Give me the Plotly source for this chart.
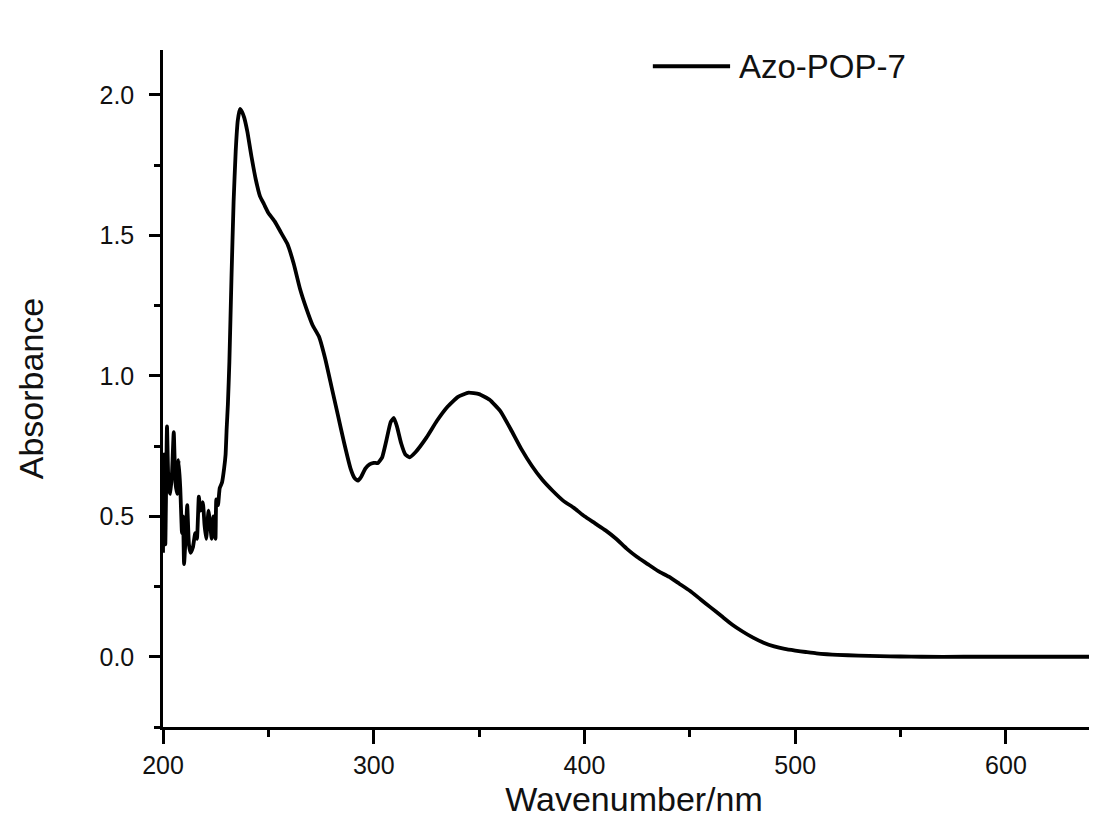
import plotly.graph_objects as go

# ---- data ----
wavelength_nm = [
    200.0, 200.5, 201.1, 201.9, 202.7, 203.5, 204.3, 205.1, 205.9, 206.7,
    207.4, 208.2, 209.0, 209.5, 210.0, 210.7, 211.5, 212.3, 213.1, 214.2,
    215.3, 216.1, 217.0, 217.8, 218.9, 219.7, 220.5, 221.6, 222.5, 223.1,
    223.9, 224.9, 225.3, 226.1, 226.9, 228.0, 229.0, 229.7, 230.2, 230.8,
    231.5, 232.5, 233.5, 234.5, 235.5, 236.5, 237.5, 238.5, 240, 242,
    244, 246, 248, 250, 253, 256, 259, 262, 265, 268,
    271, 274, 277, 280, 283, 286, 289, 291, 292.5, 294,
    296, 298, 300, 302, 304, 306, 308, 309.5, 311, 313,
    315, 317, 320, 325, 330, 335, 340, 345, 350, 355,
    360, 365, 370, 375, 380, 385, 390, 395, 400, 405,
    410, 415, 420, 425, 430, 435, 440, 445, 450, 455,
    460, 465, 470, 475, 480, 485, 490, 495, 500, 505,
    510, 515, 520, 530, 540, 550, 560, 580, 600, 620,
    647,
]
absorbance = [
    0.37, 0.72, 0.40, 0.82, 0.60, 0.58, 0.66, 0.80, 0.62, 0.58,
    0.70, 0.60, 0.44, 0.50, 0.33, 0.42, 0.54, 0.40, 0.37, 0.39,
    0.44, 0.42, 0.57, 0.52, 0.55, 0.47, 0.42, 0.52, 0.46, 0.42,
    0.50, 0.42, 0.56, 0.54, 0.60, 0.62, 0.67, 0.72, 0.81, 0.90,
    1.05, 1.35, 1.62, 1.80, 1.91, 1.95, 1.94, 1.92, 1.87, 1.78,
    1.70, 1.64, 1.61, 1.58, 1.55, 1.51, 1.47, 1.40, 1.31, 1.24,
    1.18, 1.14, 1.06, 0.96, 0.86, 0.76, 0.67, 0.635, 0.627, 0.64,
    0.67, 0.685, 0.69, 0.69, 0.71, 0.77, 0.835, 0.85, 0.82, 0.76,
    0.72, 0.71, 0.73, 0.78, 0.84, 0.89, 0.925, 0.94, 0.935, 0.915,
    0.875, 0.81, 0.74, 0.68, 0.63, 0.59, 0.555, 0.53, 0.50, 0.475,
    0.45, 0.42, 0.385, 0.355, 0.33, 0.305, 0.285, 0.26, 0.235, 0.205,
    0.175, 0.145, 0.115, 0.09, 0.068, 0.05, 0.037, 0.028, 0.022, 0.017,
    0.012, 0.009, 0.007, 0.004, 0.002, 0.001, 0.0, 0.0, 0.0, 0.0,
    0.0,
]
series_name = "Azo-POP-7"
x_ticks = [200, 300, 400, 500, 600]
y_ticks = [0.0, 0.5, 1.0, 1.5, 2.0]
y_tick_labels = ["0.0", "0.5", "1.0", "1.5", "2.0"]

FONT = "Liberation Sans, Arial, Helvetica, sans-serif"
INK = "#111111"

fig = go.Figure()
fig.add_trace(go.Scatter(
    x=wavelength_nm, y=absorbance, mode="lines", name=series_name,
    line=dict(color="black", width=3.8, shape="spline", smoothing=0.4),
    showlegend=False,
))

# legend drawn as a long line sample + label, as in the reference
fig.add_shape(type="line", xref="paper", yref="paper",
              x0=0.520, x1=0.602, y0=0.976, y1=0.976,
              line=dict(color="black", width=3.8))
fig.add_annotation(xref="paper", yref="paper", x=0.609, y=0.976,
                   xanchor="left", yanchor="middle", showarrow=False,
                   text=series_name, font=dict(family=FONT, size=33, color=INK))

fig.update_layout(
    width=1097, height=827,
    margin=dict(l=155, r=0, t=42, b=108),
    paper_bgcolor="white", plot_bgcolor="white",
    font=dict(family=FONT, color=INK),
)
fig.update_xaxes(
    range=[200, 647], tickvals=x_ticks,
    showline=True, linecolor="black", linewidth=2.5,
    ticks="outside", ticklen=14, tickwidth=2.5, tickcolor="black",
    minor=dict(dtick=50, tick0=200, ticks="outside", ticklen=7, tickwidth=2.5, tickcolor="black"),
    showgrid=False, zeroline=False,
    tickfont=dict(family=FONT, size=25, color=INK),
    title=dict(text="Wavenumber/nm", font=dict(family=FONT, size=34, color=INK), standoff=10),
)
fig.update_yaxes(
    range=[-0.25, 2.16], tickvals=y_ticks, ticktext=y_tick_labels,
    showline=True, linecolor="black", linewidth=2.5,
    ticks="outside", ticklen=11, tickwidth=2.5, tickcolor="black",
    minor=dict(dtick=0.25, tick0=0, ticks="outside", ticklen=6, tickwidth=2.5, tickcolor="black"),
    showgrid=False, zeroline=False, ticklabelstandoff=10,
    tickfont=dict(family=FONT, size=25, color=INK),
    title=dict(text="Absorbance", font=dict(family=FONT, size=34, color=INK), standoff=46),
)

fig.write_html("out.html")
